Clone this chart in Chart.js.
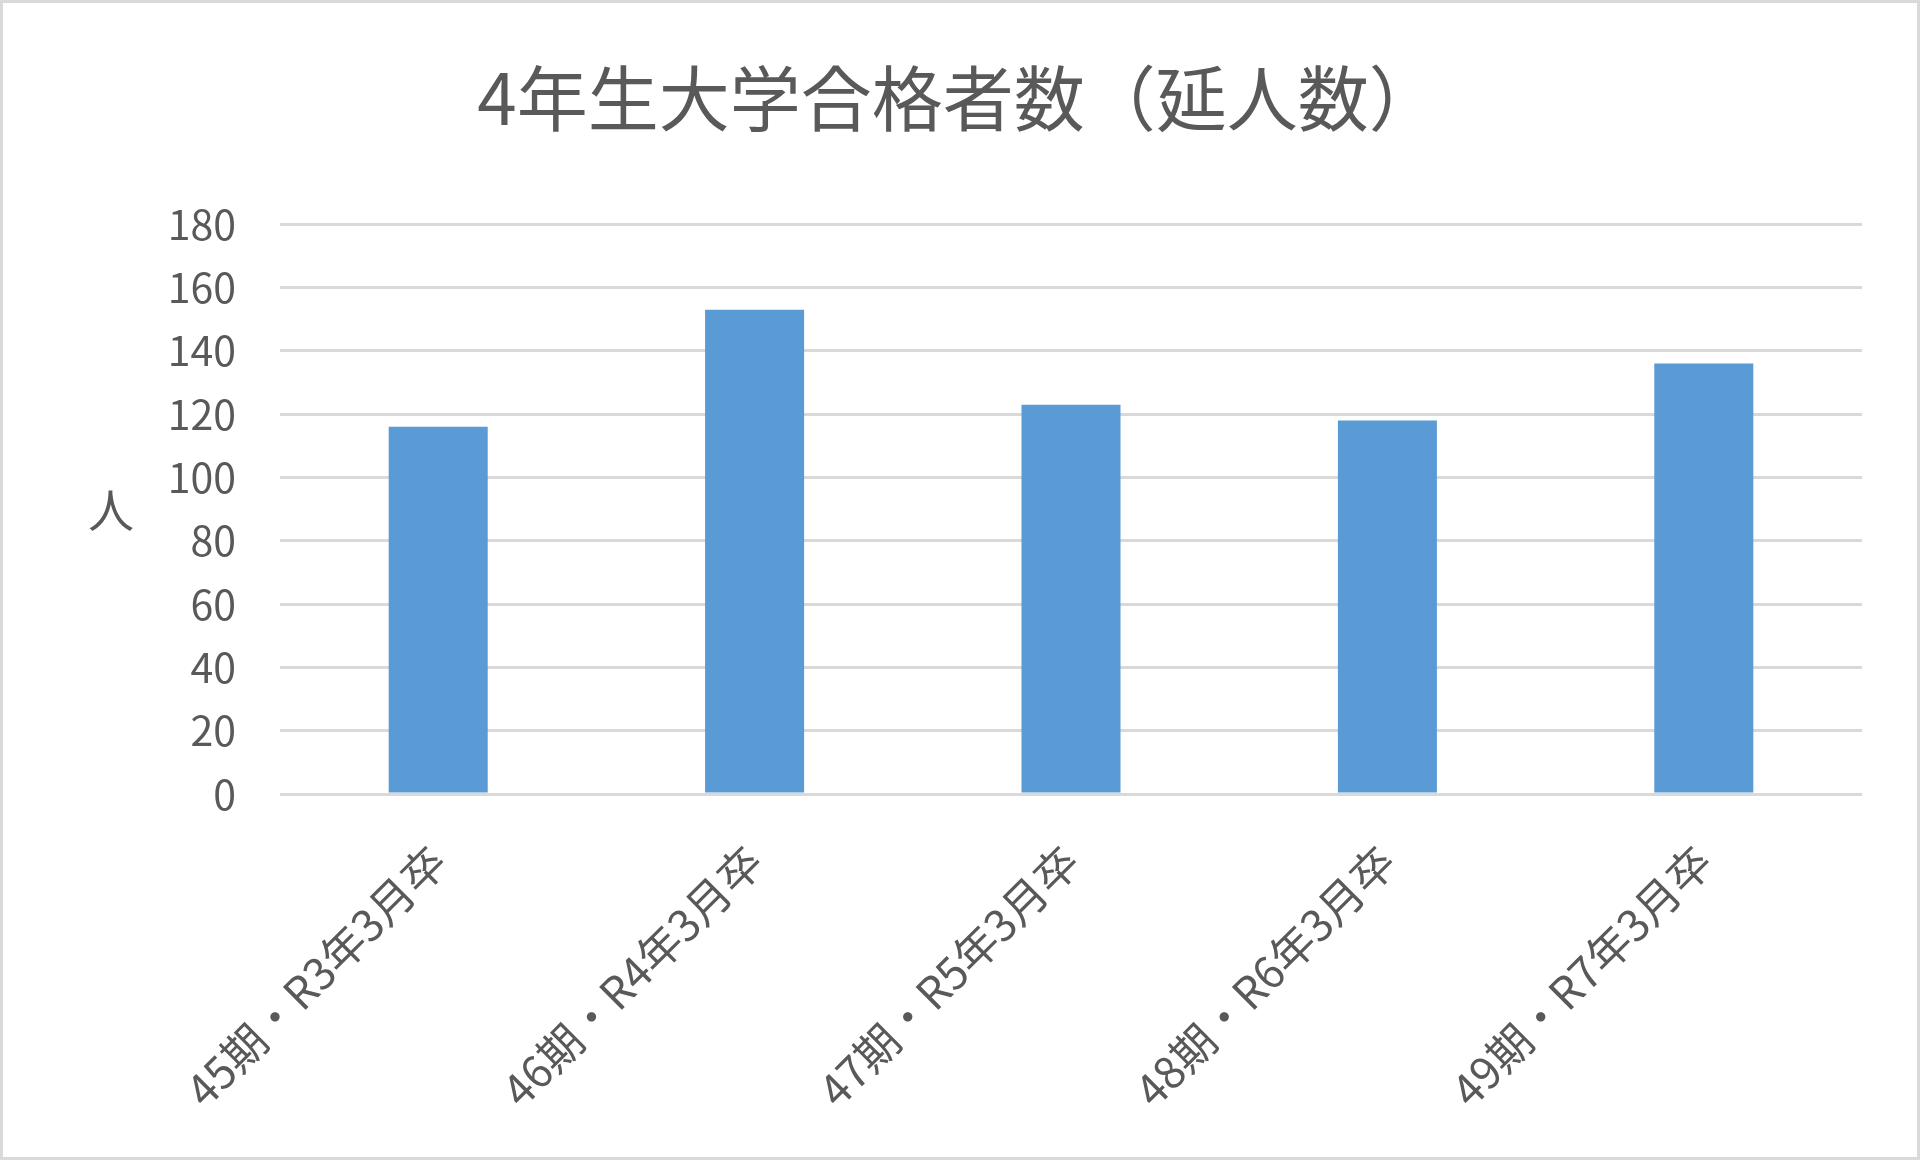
<!DOCTYPE html>
<html lang="ja">
<head>
<meta charset="utf-8">
<title>4年生大学合格者数（延人数）</title>
<script src="https://cdn.jsdelivr.net/npm/chart.js@4.4.1/dist/chart.umd.min.js"></script>
<style>
  html, body { margin: 0; padding: 0; background: #fff; }
  canvas { display: block; }
</style>
</head>
<body>
<canvas id="chart" width="1920" height="1160"></canvas>
<script>
// data
const categories = [
    '45期・R3年3月卒',
    '46期・R4年3月卒',
    '47期・R5年3月卒',
    '48期・R6年3月卒',
    '49期・R7年3月卒'
];
const passCounts = [116, 153, 123, 118, 136];
const yTicks = [0, 20, 40, 60, 80, 100, 120, 140, 160, 180];

const chartTitle = '4年生大学合格者数（延人数）';
const yAxisTitle = '人';

const FONT = "'Noto Sans CJK JP', 'Noto Sans', sans-serif";
const TEXT = '#595959';
const GRID = '#d9d9d9';

// white background plus the thin grey frame round the whole chart
const framePlugin = {
    id: 'frame',
    beforeDraw(chart) {
        const { ctx, width, height } = chart;
        ctx.save();
        ctx.fillStyle = '#ffffff';
        ctx.fillRect(0, 0, width, height);
        ctx.restore();
    },
    afterDraw(chart) {
        const { ctx, width, height } = chart;
        ctx.save();
        ctx.strokeStyle = GRID;
        ctx.lineWidth = 3;
        ctx.strokeRect(1.5, 1.5, width - 3, height - 3);
        ctx.restore();
    }
};

// y axis title is drawn upright, as in the original
const uprightYTitle = {
    id: 'uprightYTitle',
    afterDraw(chart) {
        const { ctx } = chart;
        const y = chart.scales.y;
        ctx.save();
        ctx.fillStyle = TEXT;
        ctx.font = '46px ' + FONT;
        ctx.textAlign = 'center';
        ctx.textBaseline = 'middle';
        ctx.fillText(yAxisTitle, 111, (y.top + y.bottom) / 2);
        ctx.restore();
    }
};

new Chart(document.getElementById('chart'), {
    type: 'bar',
    data: {
        labels: categories,
        datasets: [{
            label: chartTitle,
            data: passCounts,
            backgroundColor: '#5b9bd5',
            borderWidth: 0,
            barPercentage: 0.313,
            categoryPercentage: 1
        }]
    },
    options: {
        responsive: false,
        devicePixelRatio: 1,
        animation: false,
        layout: {
            padding: { left: 55, right: 58, top: 0, bottom: 0 }
        },
        plugins: {
            legend: { display: false },
            tooltip: { enabled: false },
            title: {
                display: true,
                text: chartTitle,
                color: TEXT,
                font: { family: FONT, size: 71, weight: 'normal', lineHeight: 1.2 },
                padding: { top: 55, bottom: 84 }
            }
        },
        scales: {
            x: {
                grid: { display: false },
                border: { display: false },
                ticks: {
                    color: TEXT,
                    font: { family: FONT, size: 44 },
                    minRotation: 45,
                    maxRotation: 45,
                    padding: 33
                },
                afterFit(scale) {
                    scale.height = 366;
                }
            },
            y: {
                min: 0,
                max: 180,
                afterBuildTicks(scale) {
                    scale.ticks = yTicks.map(v => ({ value: v }));
                },
                grid: {
                    color: GRID,
                    lineWidth: 3,
                    drawTicks: false
                },
                border: { display: false },
                ticks: {
                    color: TEXT,
                    font: { family: FONT, size: 41 },
                    padding: 44
                },
                afterFit(scale) {
                    scale.width = 225;
                }
            }
        }
    },
    plugins: [framePlugin, uprightYTitle]
});
</script>
</body>
</html>
